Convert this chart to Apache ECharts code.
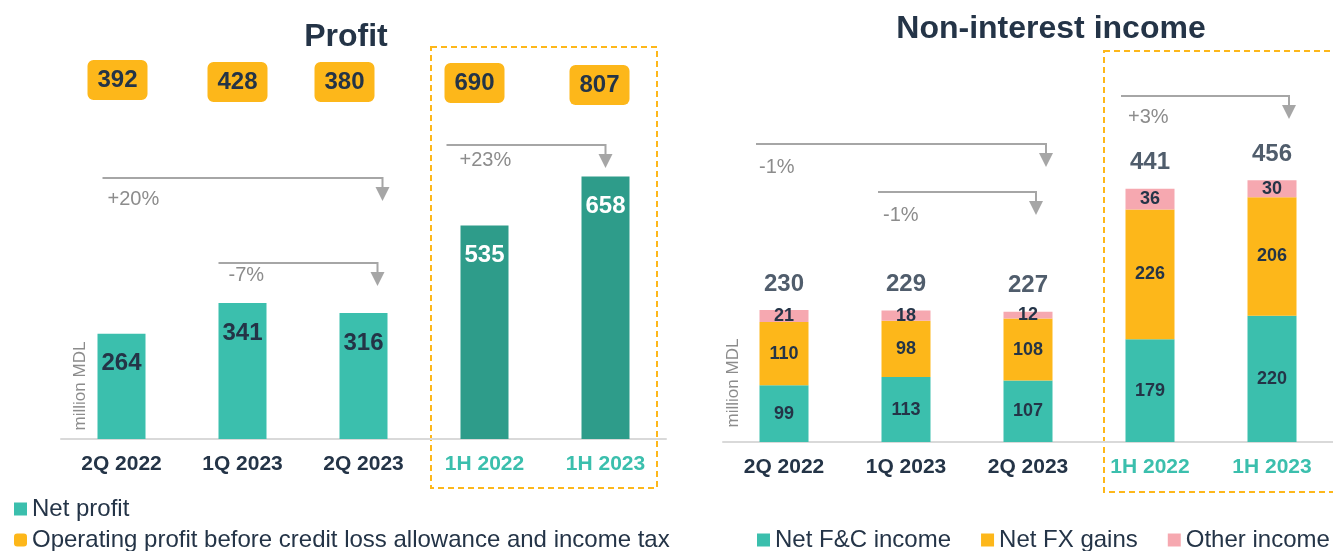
<!DOCTYPE html>
<html>
<head>
<meta charset="utf-8">
<script src="https://cdn.jsdelivr.net/npm/echarts@6/dist/echarts.min.js"></script>
<style>
html, body { margin: 0; padding: 0; background: #fff; }
#chart { width: 1333px; height: 551px; }
</style>
</head>
<body>
<div id="chart"></div>
<script>
// data
const categories = ['2Q 2022', '1Q 2023', '2Q 2023', '1H 2022', '1H 2023']
const netProfit = [264, 341, 316, 535, 658]
const operatingProfit = [392, 428, 380, 690, 807]
const netFCIncome = [99, 113, 107, 179, 220]
const netFXGains = [110, 98, 108, 226, 206]
const otherIncome = [21, 18, 12, 36, 30]
const incomeTotal = [230, 229, 227, 441, 456]
const profitGrowth = [
    { from: 0, to: 2, text: '+20%' },
    { from: 1, to: 2, text: '-7%' },
    { from: 3, to: 4, text: '+23%' }
]
const incomeGrowth = [
    { from: 0, to: 2, text: '-1%' },
    { from: 1, to: 2, text: '-1%' },
    { from: 3, to: 4, text: '+3%' }
]

// layout only: pixel nudges for the orange boxes and the arrows
const boxOffsets = [[-4, -3], [-5, -1], [-19, -1], [-10, 0], [-6, 2]]
const profitArrowLayout = [
    { dx0: -19, dx1: 19, y: 178, tx: 5, ty: 21 },
    { dx0: -24, dx1: 14, y: 263, tx: 10, ty: 12 },
    { dx0: -38, dx1: 0, y: 145, tx: 13, ty: 15 }
]
const incomeArrowLayout = [
    { dx0: -28, dx1: 18, y: 144, tx: 3, ty: 23 },
    { dx0: -28, dx1: 8, y: 192, tx: 5, ty: 23 },
    { dx0: -29, dx1: 17, y: 96, tx: 7, ty: 21 }
]

const font = 'Liberation Sans, Arial, sans-serif'
const navy = '#243447'
const teal = '#3BBFAD'
const darkTeal = '#2E9C8A'
const orange = '#FDB71A'
const pink = '#F6A8B0'
const gray = '#A6A6A6'
const opName = 'Operating profit before credit loss allowance and income tax'
const boxPath = 'path://M6,0H54A6,6 0 0 1 60,6V34A6,6 0 0 1 54,40H6A6,6 0 0 1 0,34V6A6,6 0 0 1 6,0Z'

const chart = echarts.init(document.getElementById('chart'))

const catAxis = (gridIndex, colorFn) => ({
    type: 'category',
    gridIndex: gridIndex,
    data: categories,
    axisTick: { show: false },
    axisLine: { lineStyle: { color: '#D9D9D9', width: 2 } },
    axisLabel: {
        margin: 15,
        fontSize: 21,
        fontWeight: 'bold',
        fontFamily: font,
        color: colorFn
    }
})

const legendText = { fontSize: 24, color: navy, fontFamily: font }

const option = {
    animation: false,
    textStyle: { fontFamily: font },
    title: [
        { text: 'Profit', left: 341, top: 32, textAlign: 'center', textVerticalAlign: 'middle',
          textStyle: { fontSize: 32, fontWeight: 'bold', color: navy, fontFamily: font } },
        { text: 'Non-interest income', left: 1046, top: 24, textAlign: 'center', textVerticalAlign: 'middle',
          textStyle: { fontSize: 32, fontWeight: 'bold', color: navy, fontFamily: font } }
    ],
    legend: [
        {
            left: 14, top: 497, padding: 0,
            itemWidth: 13, itemHeight: 13,
            textStyle: legendText,
            data: [{ name: 'Net profit', icon: 'rect' }]
        },
        {
            left: 14, top: 528, padding: 0,
            itemWidth: 13, itemHeight: 13,
            textStyle: legendText,
            data: [{ name: opName, icon: 'roundRect' }]
        },
        {
            left: 757, top: 528, padding: 0,
            itemGap: 30,
            itemWidth: 13, itemHeight: 13,
            textStyle: legendText,
            data: [
                { name: 'Net F&C income', icon: 'rect' },
                { name: 'Net FX gains', icon: 'rect' },
                { name: 'Other income', icon: 'rect' }
            ]
        }
    ],
    grid: [
        { left: 61, width: 605, top: 40, bottom: 112 },
        { left: 61, width: 605, top: 63, height: 40 },
        { left: 723, width: 617, top: 40, bottom: 109 }
    ],
    xAxis: [
        catAxis(0, (v, i) => (i > 2 ? teal : navy)),
        { type: 'category', gridIndex: 1, data: categories, show: false },
        catAxis(2, (v, i) => (i > 2 ? teal : navy))
    ],
    yAxis: [
        { type: 'value', gridIndex: 0, min: 0, max: 1000, show: false },
        { type: 'category', gridIndex: 1, data: ['op'], show: false },
        { type: 'value', gridIndex: 2, min: 0, max: 700, show: false }
    ],
    series: [
        {
            name: 'Net profit',
            type: 'bar',
            xAxisIndex: 0,
            yAxisIndex: 0,
            barWidth: 48,
            itemStyle: { color: teal },
            label: {
                show: true,
                position: 'insideTop',
                distance: 18,
                fontSize: 24,
                fontWeight: 'bold',
                fontFamily: font
            },
            data: netProfit.map((v, i) => ({
                value: v,
                itemStyle: { color: i > 2 ? darkTeal : teal },
                label: { color: i > 2 ? '#fff' : navy }
            }))
        },
        {
            name: opName,
            type: 'scatter',
            xAxisIndex: 1,
            yAxisIndex: 1,
            symbol: boxPath,
            symbolSize: [60, 40],
            itemStyle: { color: orange, opacity: 1 },
            label: {
                show: true,
                position: 'inside',
                fontSize: 24,
                fontWeight: 'bold',
                color: navy,
                fontFamily: font,
                formatter: p => p.value[2]
            },
            data: operatingProfit.map((v, i) => ({ value: [i, 0, v], symbolOffset: boxOffsets[i] }))
        },
        {
            name: 'Net F&C income',
            type: 'bar',
            xAxisIndex: 2,
            yAxisIndex: 2,
            stack: 'ni',
            barWidth: 49,
            itemStyle: { color: teal },
            label: { show: true, position: 'inside', fontSize: 18, fontWeight: 'bold', color: navy, fontFamily: font },
            data: netFCIncome
        },
        {
            name: 'Net FX gains',
            type: 'bar',
            xAxisIndex: 2,
            yAxisIndex: 2,
            stack: 'ni',
            itemStyle: { color: orange },
            label: { show: true, position: 'inside', fontSize: 18, fontWeight: 'bold', color: navy, fontFamily: font },
            data: netFXGains
        },
        {
            name: 'Other income',
            type: 'bar',
            xAxisIndex: 2,
            yAxisIndex: 2,
            stack: 'ni',
            itemStyle: { color: pink },
            label: { show: true, position: 'inside', fontSize: 18, fontWeight: 'bold', color: navy, fontFamily: font },
            data: otherIncome
        },
        {
            name: 'Total',
            type: 'scatter',
            xAxisIndex: 2,
            yAxisIndex: 2,
            symbolSize: 0,
            label: { show: true, position: 'top', distance: 14, fontSize: 24, fontWeight: 'bold', color: navy, fontFamily: font },
            data: incomeTotal
        }
    ]
}
chart.setOption(option)

// growth arrows, dashed frames and axis names
function arrow(axisIndex, g, l) {
    const x0 = chart.convertToPixel({ xAxisIndex: axisIndex }, g.from) + l.dx0
    const x1 = chart.convertToPixel({ xAxisIndex: axisIndex }, g.to) + l.dx1
    const y = l.y
    return [
        { type: 'polyline', shape: { points: [[x0, y], [x1, y], [x1, y + 10]] }, style: { stroke: gray, lineWidth: 2, fill: null } },
        { type: 'polygon', shape: { points: [[x1 - 7, y + 9], [x1 + 7, y + 9], [x1, y + 23]] }, style: { fill: gray } },
        { type: 'text', x: x0 + l.tx, y: y + l.ty,
          style: { text: g.text, fill: '#8C8C8C', fontSize: 20, fontFamily: font, verticalAlign: 'middle', textVerticalAlign: 'middle' } }
    ]
}

function axisName(x, y) {
    return { type: 'text', x: x, y: y, rotation: Math.PI / 2,
        style: { text: 'million MDL', fill: '#8C8C8C', fontSize: 17, fontFamily: font,
                 align: 'center', verticalAlign: 'middle', textAlign: 'center', textVerticalAlign: 'middle' } }
}

let graphics = []
profitGrowth.forEach((g, i) => { graphics = graphics.concat(arrow(0, g, profitArrowLayout[i])) })
incomeGrowth.forEach((g, i) => { graphics = graphics.concat(arrow(2, g, incomeArrowLayout[i])) })
graphics.push({ type: 'rect', shape: { x: 431, y: 47, width: 226, height: 441 },
    style: { fill: null, stroke: orange, lineWidth: 2, lineDash: [6, 4] } })
graphics.push({ type: 'rect', shape: { x: 1104, y: 51, width: 260, height: 441 },
    style: { fill: null, stroke: orange, lineWidth: 2, lineDash: [6, 4] } })
graphics.push(axisName(80, 386))
graphics.push(axisName(733, 383))

chart.setOption({ graphic: graphics })
</script>
</body>
</html>
